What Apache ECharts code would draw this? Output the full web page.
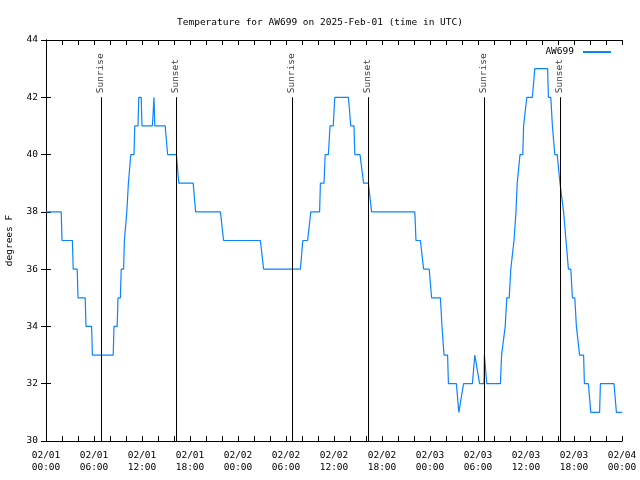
<!DOCTYPE html>
<html>
<head>
<meta charset="utf-8">
<script src="https://cdn.jsdelivr.net/npm/echarts@6/dist/echarts.min.js"></script>
<style>html,body{margin:0;padding:0;background:#fff}#c{width:640px;height:480px}</style>
</head>
<body>
<div id="c"></div>
<script>
// hours since 2025-02-01 00:00 UTC
const hours = [0,1.9,2.0,3.3,3.4,3.9,4.0,4.9,5.0,5.7,5.8,8.4,8.5,8.9,9.0,9.3,9.4,9.7,9.8,10.0,10.1,10.2,10.3,10.5,10.6,11.0,11.1,11.5,11.6,11.9,12.0,13.3,13.4,13.5,13.6,14.9,15.2,16.3,16.6,18.4,18.7,21.8,22.2,26.8,27.2,31.8,32.1,32.7,33.1,34.2,34.3,34.75,34.9,35.3,35.5,35.9,36.1,37.8,38.1,38.5,38.6,39.25,39.7,40.3,40.7,46.1,46.25,46.8,47.2,47.9,48.2,49.3,49.5,49.6,49.75,50.2,50.3,51.3,51.6,51.8,52.2,53.3,53.6,53.8,54.2,54.75,54.8,54.9,55.1,56.8,56.95,57.2,57.4,57.5,57.6,57.9,58.1,58.3,58.5,58.6,58.75,58.8,58.9,59.0,59.25,59.6,59.7,59.9,60.1,60.8,61.1,62.7,62.8,63.1,63.3,63.4,63.6,63.9,64.25,64.5,64.7,64.9,65.0,65.1,65.3,65.6,65.8,66.1,66.3,66.5,66.7,67.2,67.3,67.8,68.1,69.2,69.3,71.0,71.3,72];
const temps = [38,38,37,37,36,36,35,35,34,34,33,33,34,34,35,35,36,36,37,37,38,38,39,39,40,40,41,41,42,42,41,41,41,42,41,41,40,40,39,39,38,38,37,37,36,36,37,37,38,38,39,39,40,40,41,41,42,42,41,41,40,40,39,39,38,38,37,37,36,36,35,35,34,34,33,33,32,32,31,31,32,32,33,33,32,32,33,33,32,32,33,33,34,34,35,35,36,36,37,37,38,38,39,39,40,40,41,41,42,42,43,43,42,42,41,41,40,40,39,39,38,38,37,37,36,36,35,35,34,34,33,33,32,32,31,31,32,32,31,31];
const sunHours = [6.85, 16.25, 30.75, 40.25, 54.75, 64.25];
const sunLabels = ['Sunrise','Sunset','Sunrise','Sunset','Sunrise','Sunset'];
const dayLabels = ['02/01','02/02','02/03','02/04'];
const seriesName = 'AW699';
const titleText = 'Temperature for AW699 on 2025-Feb-01 (time in UTC)';
const yName = 'degrees F';

const FONT = 'DejaVu Sans Mono';
const FS = 9.5;
const data = hours.map((h,i)=>[h,temps[i]]);
const sunLines = sunHours.map(h=>[{coord:[h,30]},{coord:[h,42]}]);
const sunText = sunHours.map((h,i)=>({value:[h,42], name:sunLabels[i]}));

function xlab(v){
  const d = Math.floor(v/24), hh = v - d*24;
  return dayLabels[d] + '\n' + String(hh).padStart(2,'0') + ':00';
}
const axisCommon = {
  axisLine:{show:true, lineStyle:{color:'#000', width:1}},
  axisTick:{show:true, inside:true, length:5, lineStyle:{color:'#000'}},
  splitLine:{show:false}
};
const chart = echarts.init(document.getElementById('c'), null, {renderer:'canvas'});
chart.setOption({
  animation:false,
  backgroundColor:'#fff',
  title:{text:titleText, left:'center', top:13, textStyle:{fontFamily:FONT, fontSize:FS, fontWeight:'normal', color:'#000'}},
  legend:{show:true, right:24, top:42, align:'right', itemWidth:28, itemHeight:2, itemGap:0,
    textStyle:{fontFamily:FONT, fontSize:FS, color:'#000', padding:[0,4,0,0]}, data:[{name:seriesName, icon:'rect'}]},
  grid:{left:46, right:18, top:40, bottom:39, containLabel:false, outerBoundsMode:'none'},
  xAxis:[
    Object.assign({type:'value', min:0, max:72, interval:6, position:'bottom',
      axisLabel:{formatter:xlab, fontFamily:FONT, fontSize:FS, color:'#000', lineHeight:12, margin:9},
      minorTick:{show:true, splitNumber:3, length:5, lineStyle:{color:'#000'}}}, axisCommon),
    Object.assign({type:'value', min:0, max:72, interval:6, position:'top',
      axisLabel:{show:false},
      minorTick:{show:true, splitNumber:3, length:5, lineStyle:{color:'#000'}}}, axisCommon)
  ],
  yAxis:[
    Object.assign({type:'value', min:30, max:44, interval:2, position:'left',
      name:yName, nameLocation:'middle', nameGap:31, nameRotate:90,
      nameTextStyle:{fontFamily:FONT, fontSize:FS, color:'#000'},
      axisLabel:{fontFamily:FONT, fontSize:FS, color:'#000', margin:8}}, axisCommon),
    Object.assign({type:'value', min:30, max:44, interval:2, position:'right',
      axisLabel:{show:false}}, axisCommon)
  ],
  series:[
    {name:seriesName, type:'line', data:data, showSymbol:false, symbol:'none',
      lineStyle:{color:'#0a84ff', width:1.2}, itemStyle:{color:'#0a84ff'}, z:3,
      markLine:{silent:true, symbol:'none', label:{show:false},
        lineStyle:{color:'#000', width:1, type:'solid'}, data:sunLines}},
    {name:'sunlabels', type:'scatter', data:sunText, symbolSize:0, silent:true,
      label:{show:true, formatter:p=>p.name, position:'top', distance:4, rotate:90,
        align:'left', verticalAlign:'middle', fontFamily:FONT, fontSize:FS, color:'#000'}}
  ]
});
</script>
</body>
</html>
